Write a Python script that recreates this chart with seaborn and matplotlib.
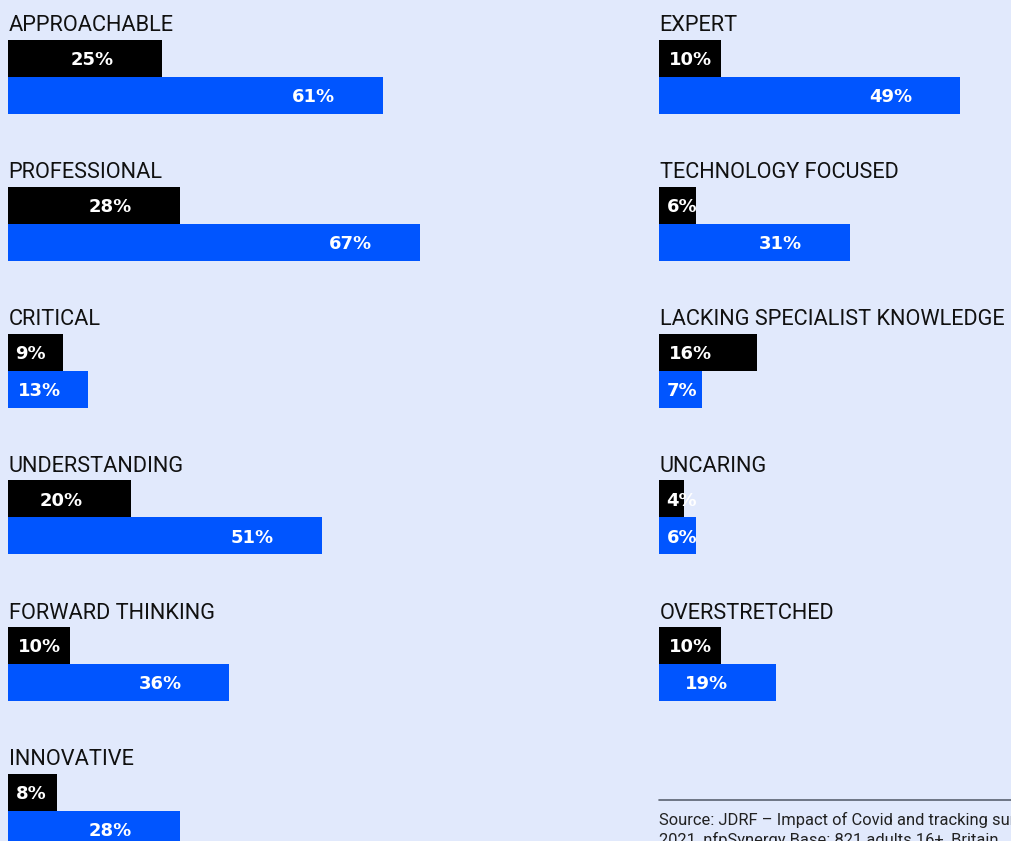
import matplotlib
matplotlib.use("Agg")
import matplotlib.pyplot as plt
import seaborn as sns
import pandas as pd
from matplotlib.lines import Line2D

# ---- data ----
left_categories = ["APPROACHABLE", "PROFESSIONAL", "CRITICAL", "UNDERSTANDING",
                   "FORWARD THINKING", "INNOVATIVE"]
left_black = [25, 28, 9, 20, 10, 8]
left_blue = [61, 67, 13, 51, 36, 28]

right_categories = ["EXPERT", "TECHNOLOGY FOCUSED", "LACKING SPECIALIST KNOWLEDGE",
                    "UNCARING", "OVERSTRETCHED"]
right_black = [10, 6, 16, 4, 10]
right_blue = [49, 31, 7, 6, 19]

series_names = ["Series 1", "Series 2"]
source_lines = ["Source: JDRF \u2013 Impact of Covid and tracking survey,",
                "2021, nfpSynergy Base: 821 adults 16+, Britain"]

# ---- style ----
BG = "#E1E9FC"
BLACK = "#000000"
BLUE = "#0055FF"
W, H = 1011, 841
PX_PER_PCT = 6.15
PITCH = 146.8
FIRST = 77.0
BAR_W = 2 * 37 / PITCH

sns.set_theme(style="white")
plt.rcParams["font.family"] = ["Roboto", "DejaVu Sans"]

fig = plt.figure(figsize=(W / 100, H / 100), dpi=100, facecolor=BG)

ylim = ((H - FIRST) / PITCH, -FIRST / PITCH)


def draw_column(x0_px, width_px, cats, black, blue):
    ax = fig.add_axes([x0_px / W, 0, width_px / W, 1])
    ax.set_facecolor("none")
    df = pd.DataFrame({
        "cat": cats * 2,
        "series": [series_names[0]] * len(cats) + [series_names[1]] * len(cats),
        "value": list(black) + list(blue),
    })
    sns.barplot(data=df, y="cat", x="value", hue="series", orient="h",
                order=cats, hue_order=series_names,
                palette={series_names[0]: BLACK, series_names[1]: BLUE},
                width=BAR_W, saturation=1, legend=False, ax=ax, errorbar=None,
                linewidth=0, edgecolor="none")
    ax.set_xlim(0, width_px / PX_PER_PCT)
    ax.set_ylim(*ylim)
    ax.axis("off")
    for i, c in enumerate(cats):
        ax.text(0.1, i - 0.31, c, ha="left", va="baseline", fontsize=15.7,
                color="#111111", family=["Roboto", "DejaVu Sans"])
        for v, dy in ((black[i], -BAR_W / 4), (blue[i], BAR_W / 4)):
            s = f"{v}%"
            x = max(v - 11.3, 3.7 if len(s) == 2 else 5.1)
            ax.text(x, i + dy + 0.012, s, ha="center", va="center",
                    fontsize=13, fontweight="bold", color="white",
                    family="DejaVu Sans")
    return ax


draw_column(8, 600, left_categories, left_black, left_blue)
draw_column(659, 352, right_categories, right_black, right_blue)

fig.add_artist(Line2D([659 / W, 1.0], [1 - 800 / H, 1 - 800 / H],
                      color="#5a6270", lw=1.2))
fig.text(659 / W, 1 - 825 / H, source_lines[0], ha="left", va="baseline",
         fontsize=11.9, color="#222222")
fig.text(659 / W, 1 - 845 / H, source_lines[1], ha="left", va="baseline",
         fontsize=11.9, color="#222222")

fig.savefig("out.png", dpi=100, facecolor=BG)
